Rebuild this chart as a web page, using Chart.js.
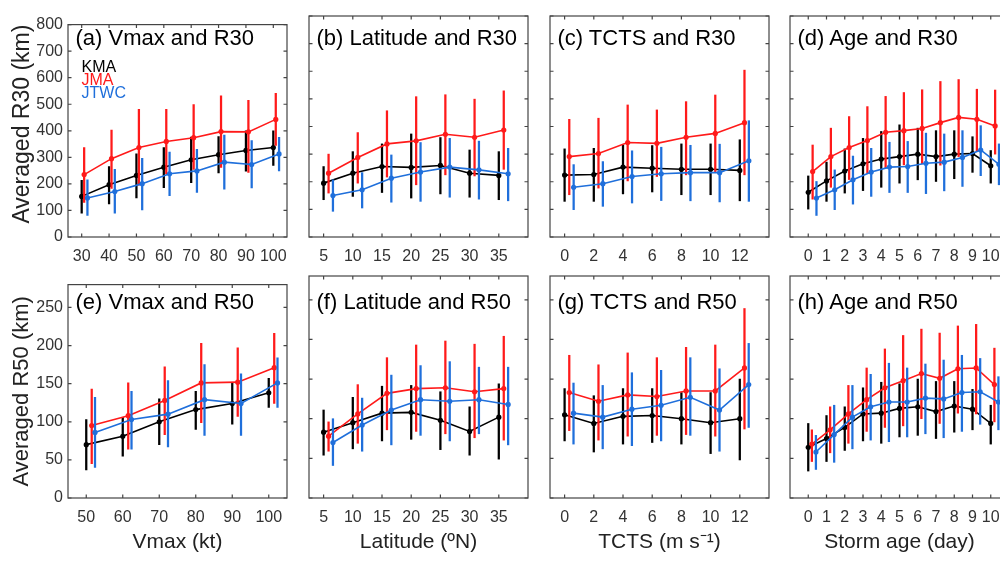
<!DOCTYPE html>
<html>
<head>
<meta charset="utf-8">
<script src="https://cdn.jsdelivr.net/npm/chart.js@4.4.1/dist/chart.umd.min.js"></script>
<style>
  html, body { margin: 0; padding: 0; background: #fff; overflow: hidden; }
  #fig { position: relative; width: 1000px; height: 563px; overflow: hidden; font-family: "Liberation Sans", Arial, sans-serif; }
  #fig canvas { position: absolute; }
  .ttl { position: absolute; font-size: 22px; line-height: 26px; color: #000; white-space: nowrap; }
  .leg { position: absolute; font-size: 16px; line-height: 13px; white-space: nowrap; }
</style>
</head>
<body>
<div id="fig"></div>
<script>
/* averaged R30 / R50 vs Vmax, latitude, TCTS, age — KMA, JMA, JTWC */

const COL_KMA = '#000000';
const COL_JMA = '#ff1a1a';
const COL_JTWC = '#1f6fdb';

// x bins and tick labels
const binVmax30 = [30, 40, 50, 60, 70, 80, 90, 100];
const binLat = [5, 10, 15, 20, 25, 30, 35];
const binTcts = [0, 2, 4, 6, 8, 10, 12];
const binAge = [0, 1, 2, 3, 4, 5, 6, 7, 8, 9, 10];
const binVmax50 = [50, 60, 70, 80, 90, 100];
const ticksR30 = [0, 100, 200, 300, 400, 500, 600, 700, 800];
const ticksR50 = [0, 50, 100, 150, 200, 250];

// (a) Vmax and R30
const a_kma = [153, 197, 232, 263, 291, 310, 326, 337];
const a_kma_err = [[90,213],[125,265],[147,313],[186,337],[205,376],[241,378],[248,400],[270,400]];
const a_jma = [235, 295, 337, 360, 374, 397, 396, 443];
const a_jma_err = [[130,337],[183,403],[195,481],[238,481],[255,499],[262,532],[243,515],[345,541]];
const a_jtwc = [147, 171, 201, 238, 249, 282, 273, 313];
const a_jtwc_err = [[81,215],[90,255],[102,296],[156,320],[168,330],[180,384],[185,363],[249,375]];

// (b) Latitude and R30
const b_kma = [195, 231, 255, 252, 259, 231, 223];
const b_kma_err = [[135,255],[147,309],[161,337],[141,373],[156,360],[144,315],[135,309]];
const b_jma = [231, 288, 337, 348, 372, 361, 387];
const b_jma_err = [[159,300],[195,378],[217,457],[189,508],[225,515],[221,499],[245,529]];
const b_jtwc = [150, 171, 213, 235, 253, 243, 229];
const b_jtwc_err = [[93,207],[105,233],[126,297],[129,342],[144,357],[137,347],[131,321]];

// (c) TCTS and R30
const c_kma = [224, 226, 253, 249, 245, 245, 241];
const c_kma_err = [[129,319],[129,321],[156,332],[163,331],[153,337],[153,337],[131,352]];
const c_jma = [291, 302, 342, 339, 361, 375, 414];
const c_jma_err = [[153,426],[177,430],[203,478],[219,460],[225,490],[233,514],[225,604]];
const c_jtwc = [180, 193, 219, 229, 233, 233, 276];
const c_jtwc_err = [[99,262],[111,273],[123,312],[132,325],[131,332],[127,336],[129,421]];

// (d) Age and R30
const d_kma = [162, 203, 239, 265, 282, 291, 300, 291, 300, 302, 258];
const d_kma_err = [[101,221],[129,271],[159,319],[168,357],[180,382],[195,406],[207,394],[201,385],[211,385],[234,363],[195,313]];
const d_jma = [237, 291, 324, 349, 379, 385, 393, 414, 433, 426, 402];
const d_jma_err = [[137,333],[180,394],[208,436],[231,472],[249,509],[261,523],[265,533],[260,563],[291,570],[310,535],[300,532]];
const d_jtwc = [141, 171, 207, 235, 253, 255, 267, 271, 288, 315, 263];
const d_jtwc_err = [[78,201],[99,243],[119,293],[147,321],[161,343],[161,346],[157,376],[167,373],[183,385],[222,403],[189,337]];

// (e) Vmax and R50
const e_kma = [70, 81, 100, 116, 124, 138];
const e_kma_err = [[37,103],[55,106],[70,130],[90,140],[97,151],[119,157]];
const e_jma = [95, 108, 128, 151, 152, 171];
const e_jma_err = [[45,143],[64,151],[83,172],[99,203],[107,197],[124,216]];
const e_jtwc = [86, 103, 110, 129, 124, 151];
const e_jtwc_err = [[40,132],[64,140],[67,154],[82,175],[82,163],[119,184]];

// (f) Latitude and R50
const f_kma = [83, 95, 107, 108, 98, 84, 102];
const f_kma_err = [[54,111],[62,127],[72,141],[74,142],[61,134],[54,115],[49,144]];
const f_jma = [78, 106, 132, 138, 139, 134, 138];
const f_jma_err = [[59,96],[69,143],[86,177],[84,193],[81,198],[76,194],[73,204]];
const f_jtwc = [70, 92, 111, 124, 122, 124, 118];
const f_jtwc_err = [[41,100],[59,126],[67,155],[79,167],[72,172],[81,165],[67,165]];

// (g) TCTS and R50
const g_kma = [105, 94, 103, 104, 100, 95, 100];
const g_kma_err = [[72,138],[58,129],[68,138],[70,138],[68,133],[56,133],[48,150]];
const g_jma = [133, 122, 130, 128, 135, 135, 164];
const g_jma_err = [[85,180],[73,168],[78,183],[79,177],[80,190],[78,193],[87,239]];
const g_jtwc = [107, 102, 112, 117, 127, 111, 143];
const g_jtwc_err = [[68,145],[62,142],[66,158],[72,161],[79,177],[59,163],[89,195]];

// (h) Age and R50
const h_kma = [64, 75, 89, 106, 107, 113, 115, 109, 116, 112, 94];
const h_kma_err = [[34,94],[46,104],[60,115],[72,139],[69,146],[77,144],[79,150],[75,147],[83,147],[86,137],[68,117]];
const h_jma = [68, 86, 106, 124, 139, 148, 157, 151, 163, 164, 143];
const h_jma_err = [[46,86],[57,115],[69,142],[84,164],[89,188],[91,205],[100,213],[94,208],[107,217],[106,219],[96,189]];
const h_jtwc = [58, 80, 102, 115, 121, 121, 126, 125, 133, 134, 121];
const h_jtwc_err = [[36,79],[45,117],[62,142],[73,156],[71,170],[77,164],[81,169],[76,174],[84,180],[93,176],[86,153]];

// layout of the 2x4 grid (page pixels)
const colLeft = [68, 309, 550, 790];
const panelW = 219;
const rowTop = [16, 276];
const rowH = [221, 222];
const TICK_LEN = 3.5;

const panels = [
  { title: '(a) Vmax and R30', row: 0, col: 0, bins: binVmax30, xr: [25, 105], dx: [0.9, 2.1],
    s: [[a_kma, a_kma_err], [a_jma, a_jma_err], [a_jtwc, a_jtwc_err]] },
  { title: '(b) Latitude and R30', row: 0, col: 1, bins: binLat, xr: [2.5, 40], dx: [0.85, 1.6],
    s: [[b_kma, b_kma_err], [b_jma, b_jma_err], [b_jtwc, b_jtwc_err]] },
  { title: '(c) TCTS and R30', row: 0, col: 2, bins: binTcts, xr: [-1, 14], dx: [0.32, 0.62],
    s: [[c_kma, c_kma_err], [c_jma, c_jma_err], [c_jtwc, c_jtwc_err]] },
  { title: '(d) Age and R30', row: 0, col: 3, bins: binAge, xr: [-1, 11], dx: [0.24, 0.45],
    s: [[d_kma, d_kma_err], [d_jma, d_jma_err], [d_jtwc, d_jtwc_err]] },
  { title: '(e) Vmax and R50', row: 1, col: 0, bins: binVmax50, xr: [45, 105], dx: [1.5, 2.4], xTitle: 'Vmax (kt)',
    s: [[e_kma, e_kma_err], [e_jma, e_jma_err], [e_jtwc, e_jtwc_err]] },
  { title: '(f) Latitude and R50', row: 1, col: 1, bins: binLat, xr: [2.5, 40], dx: [0.85, 1.6], xTitle: 'Latitude (ºN)',
    s: [[f_kma, f_kma_err], [f_jma, f_jma_err], [f_jtwc, f_jtwc_err]] },
  { title: '(g) TCTS and R50', row: 1, col: 2, bins: binTcts, xr: [-1, 14], dx: [0.32, 0.61], xTitle: 'TCTS (m s⁻¹)',
    s: [[g_kma, g_kma_err], [g_jma, g_jma_err], [g_jtwc, g_jtwc_err]] },
  { title: '(h) Age and R50', row: 1, col: 3, bins: binAge, xr: [-1, 11], dx: [0.2, 0.42], xTitle: 'Storm age (day)',
    s: [[h_kma, h_kma_err], [h_jma, h_jma_err], [h_jtwc, h_jtwc_err]] },
];

Chart.defaults.font.family = '"Liberation Sans", Arial, sans-serif';
Chart.defaults.color = '#333';

// MATLAB-like box with inward ticks on all four sides
const boxTicks = {
  id: 'boxTicks',
  afterDraw(chart){
    const { ctx, chartArea: a, scales: { x, y } } = chart;
    ctx.save();
    ctx.strokeStyle = '#444';
    ctx.lineWidth = 1.2;
    ctx.beginPath();
    x.ticks.forEach(t => {
      const p = x.getPixelForValue(t.value);
      ctx.moveTo(p, a.bottom); ctx.lineTo(p, a.bottom - TICK_LEN);
      ctx.moveTo(p, a.top); ctx.lineTo(p, a.top + TICK_LEN);
    });
    y.ticks.forEach(t => {
      const p = y.getPixelForValue(t.value);
      ctx.moveTo(a.left, p); ctx.lineTo(a.left + TICK_LEN, p);
      ctx.moveTo(a.right, p); ctx.lineTo(a.right - TICK_LEN, p);
    });
    ctx.stroke();
    ctx.strokeRect(a.left, a.top, a.right - a.left, a.bottom - a.top);
    ctx.restore();
  }
};

function seriesSets(bins, off, mean, err, color, order){
  const xs = bins.map(b => b + off);
  return [
    { type: 'bar', data: xs.map((x, i) => ({ x, y: err[i] })), backgroundColor: color,
      borderWidth: 0, barThickness: 1.6, grouped: false, order: order + 1 },
    { type: 'line', data: xs.map((x, i) => ({ x, y: mean[i] })), borderColor: color,
      backgroundColor: color, borderWidth: 1.6, pointRadius: 2.6, pointBorderWidth: 0,
      pointBackgroundColor: color, tension: 0, order }
  ];
}

function addText(cls, text, left, top, color){
  const d = document.createElement('div');
  d.className = cls;
  d.textContent = text;
  d.style.left = left + 'px';
  d.style.top = top + 'px';
  if (color) d.style.color = color;
  document.getElementById('fig').appendChild(d);
}

const fig = document.getElementById('fig');
const colors = [COL_KMA, COL_JMA, COL_JTWC];

panels.forEach(p => {
  const yW = p.col === 0 ? 68 : 12;
  const xH = p.row === 0 ? 32 : 60;
  const padT = 6, padR = 24;
  const H = rowH[p.row];
  const cv = document.createElement('canvas');
  cv.width = yW + panelW + padR;
  cv.height = padT + H + xH;
  cv.style.left = (colLeft[p.col] - yW) + 'px';
  cv.style.top = (rowTop[p.row] - padT) + 'px';
  fig.appendChild(cv);

  const datasets = [];
  p.s.forEach((sr, k) => {
    const off = k === 0 ? 0 : p.dx[k - 1];
    datasets.push(...seriesSets(p.bins, off, sr[0], sr[1], colors[k], 5 - 2 * k));
  });

  const yTicks = p.row === 0 ? ticksR30 : ticksR50;
  const yTitle = p.row === 0
    ? { display: p.col === 0, text: 'Averaged R30 (km)', align: 'end', font: { size: 23 }, color: '#222', padding: { top: 9, bottom: 0 } }
    : { display: p.col === 0, text: 'Averaged R50 (km)', font: { size: 22 }, color: '#222', padding: { top: 9, bottom: 0 } };

  new Chart(cv, {
    type: 'line',
    data: { datasets },
    options: {
      responsive: false,
      animation: false,
      devicePixelRatio: 1,
      layout: { padding: { top: padT, right: padR, left: 0, bottom: 0 } },
      plugins: { legend: { display: false }, tooltip: { enabled: false } },
      scales: {
        x: {
          type: 'linear', min: p.xr[0], max: p.xr[1], offset: false,
          afterBuildTicks: s => { s.ticks = p.bins.map(v => ({ value: v })); },
          afterFit: s => { s.height = xH; },
          grid: { display: false, drawTicks: false },
          border: { display: false },
          ticks: { font: { size: 16 }, color: '#333', padding: 10, maxRotation: 0, autoSkip: false },
          title: { display: !!p.xTitle, text: p.xTitle || '', font: { size: 21 }, color: '#222',
                   padding: { top: 0, bottom: 3 } }
        },
        y: {
          type: 'linear', min: 0, max: p.row === 0 ? 800 : 280,
          afterBuildTicks: s => { s.ticks = yTicks.map(v => ({ value: v })); },
          afterFit: s => { s.width = yW; },
          grid: { display: false, drawTicks: false },
          border: { display: false },
          ticks: { display: p.col === 0, font: { size: 16 }, color: '#333', padding: 5 },
          title: yTitle
        }
      }
    },
    plugins: [boxTicks]
  });

  addText('ttl', p.title, colLeft[p.col] + 7.5, p.row === 0 ? 25 : 289);
});

// source labels inside panel (a)
addText('leg', 'KMA', 81.5, 59.5, COL_KMA);
addText('leg', 'JMA', 81.5, 73, COL_JMA);
addText('leg', 'JTWC', 81.5, 86, COL_JTWC);
</script>
</body>
</html>
